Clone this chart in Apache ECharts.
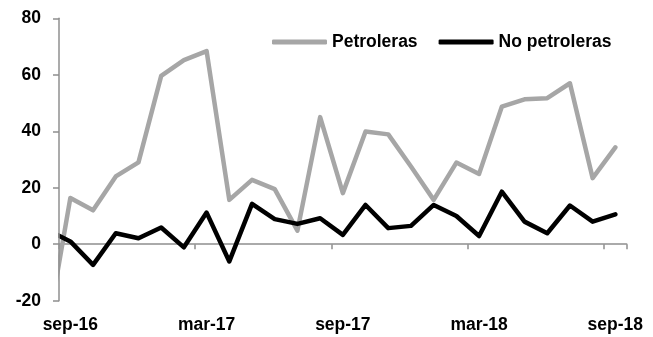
<!DOCTYPE html>
<html>
<head>
<meta charset="utf-8">
<script src="https://cdn.jsdelivr.net/npm/echarts@6/dist/echarts.min.js"></script>
<style>
  html, body { margin: 0; padding: 0; background: #fff; }
  #chart { width: 653px; height: 337px; }
</style>
</head>
<body>
<div id="chart"></div>
<script>
// Monthly series, ago-16 .. sep-18 (the first month sits left of the plot edge and is clipped)
const months = ['ago-16',
  'sep-16', 'oct-16', 'nov-16', 'dic-16', 'ene-17', 'feb-17',
  'mar-17', 'abr-17', 'may-17', 'jun-17', 'jul-17', 'ago-17',
  'sep-17', 'oct-17', 'nov-17', 'dic-17', 'ene-18', 'feb-18',
  'mar-18', 'abr-18', 'may-18', 'jun-18', 'jul-18', 'ago-18',
  'sep-18'];
const petroleras = [-30,
  16.4, 12, 24, 29, 59.6, 65.2,
  68.4, 15.7, 22.8, 19.5, 4.8, 45,
  18.1, 39.9, 38.9, 27.5, 15.7, 28.9,
  24.9, 48.7, 51.3, 51.7, 57, 23.4,
  34.3];
const noPetroleras = [5,
  1, -7.3, 3.9, 2.1, 5.9, -1.1,
  11.2, -6.1, 14.3, 8.9, 7.2, 9.2,
  3.3, 13.9, 5.7, 6.5, 13.9, 10,
  2.9, 18.6, 8, 3.9, 13.7, 8,
  10.6];
const yTicks = [-20, 0, 20, 40, 60, 80];

const shown = months.slice(1);           // months on the axis
const FONT = '"Liberation Sans Narrow", "Arial Narrow", "Liberation Sans", Arial, sans-serif';
const AXIS_GREY = '#8f8f8f';
const FS = 17.5;
const GRID = { left: 59, right: 26.3, top: 18.3, bottom: 36.3 };

// pair each value with its position: ago-16 is -1, sep-16 is 0
const toPoints = arr => arr.map((v, i) => [i - 1, v]);

const chart = echarts.init(document.getElementById('chart'));
chart.setOption({
  animation: false,
  backgroundColor: '#fff',
  textStyle: { fontFamily: FONT },
  grid: Object.assign({ containLabel: false }, GRID),
  // white strip that trims the stroke overhang left of the value axis
  graphic: [{
    type: 'rect', z: 5, silent: true,
    shape: { x: GRID.left - 5, y: GRID.top - 3, width: 4.3, height: 337 - GRID.top - GRID.bottom + 6 },
    style: { fill: '#fff' }
  }],
  legend: {
    left: 267, top: 28,
    itemWidth: 55, itemHeight: 5, itemGap: 21,
    icon: 'roundRect',
    textStyle: { fontFamily: FONT, fontWeight: 'bold', fontSize: FS, color: '#000' },
    data: ['Petroleras', 'No petroleras']
  },
  xAxis: [
    { // axis line along zero, ticks every six months
      type: 'category', data: shown, position: 'bottom', boundaryGap: true,
      axisLine: { onZero: true, lineStyle: { color: AXIS_GREY, width: 1.5 } },
      axisTick: { show: true, interval: 5, length: 5, lineStyle: { color: AXIS_GREY, width: 1.5 } },
      axisLabel: { show: false }, splitLine: { show: false }
    },
    { // month labels along the bottom edge
      type: 'category', data: shown, position: 'bottom', boundaryGap: true,
      axisLine: { show: false, onZero: false }, axisTick: { show: false },
      axisLabel: { interval: 5, margin: 15, fontFamily: FONT, fontWeight: 'bold', fontSize: FS, color: '#000' },
      splitLine: { show: false }
    },
    { // positional axis carrying the lines
      type: 'value', min: -0.5, max: shown.length - 0.5, show: false,
      axisLine: { onZero: false }, splitLine: { show: false }
    }
  ],
  yAxis: {
    type: 'value', z: 10, min: yTicks[0], max: yTicks[yTicks.length - 1], interval: 20,
    axisLine: { show: true, onZero: false, lineStyle: { color: AXIS_GREY, width: 1.5 } },
    axisTick: { show: true, length: 6, lineStyle: { color: AXIS_GREY, width: 1.5 } },
    axisLabel: { margin: 18, fontFamily: FONT, fontWeight: 'bold', fontSize: FS, color: '#000' },
    splitLine: { show: false }
  },
  series: [
    {
      name: 'Petroleras', type: 'line', xAxisIndex: 2, data: toPoints(petroleras),
      symbol: 'none', clip: true, color: '#a6a6a6',
      lineStyle: { color: '#a6a6a6', width: 4.5, cap: 'round', join: 'round' },
      itemStyle: { color: '#a6a6a6' }
    },
    {
      name: 'No petroleras', type: 'line', xAxisIndex: 2, data: toPoints(noPetroleras),
      symbol: 'none', clip: true, color: '#000',
      lineStyle: { color: '#000', width: 4.5, cap: 'round', join: 'round' },
      itemStyle: { color: '#000' }
    }
  ]
});
</script>
</body>
</html>
